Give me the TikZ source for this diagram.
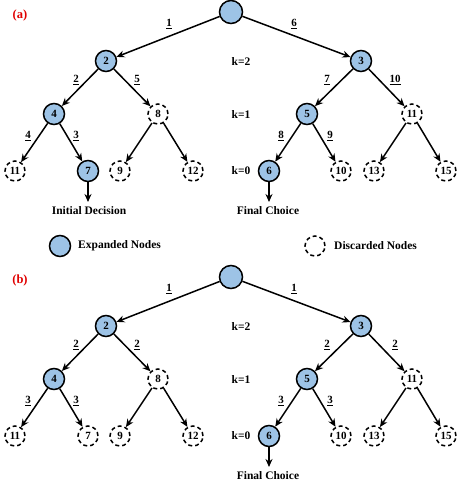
\documentclass[tikz,border=0pt]{standalone}
\usepackage{fontspec}
\setmainfont{Liberation Serif}
\usetikzlibrary{arrows.meta}
\definecolor{nodeblue}{HTML}{9DC3E6}
\definecolor{labred}{HTML}{E00000}
\tikzset{
  exp/.style={circle,draw=black,line width=1.5pt,fill=nodeblue,minimum size=21pt,inner sep=0pt,font=\bfseries\fontsize{11}{11}\selectfont},
  disc/.style={circle,draw=black,line width=1.5pt,dash pattern=on 4pt off 3pt,fill=white,minimum size=20pt,inner sep=0pt,font=\bfseries\fontsize{11}{11}\selectfont},
  rootnode/.style={exp,minimum size=23pt},
  edge/.style={line width=1.5pt,-{Stealth[length=8pt,width=7pt]}},
  elab/.style={font=\bfseries\fontsize{11}{11}\selectfont,inner sep=0pt},
  txt/.style={font=\bfseries\fontsize{11.5}{11.5}\selectfont,inner sep=0pt},
  plab/.style={font=\bfseries\fontsize{12.5}{12.5}\selectfont,text=labred,inner sep=0pt}
}
\begin{document}
\begin{tikzpicture}[x=1pt,y=-1pt]
\useasboundingbox (0,0) rectangle (458,487);
% ---------------- panel (a) ----------------
\node[plab] (pa) at (20,15) {(a)};
\node[rootnode] (ar) at (231,12) {};
\node[exp] (a2) at (106,61) {2};
\node[exp] (a3) at (361,61) {3};
\node[exp] (a4) at (54,114) {4};
\node[disc] (a8) at (158,114) {8};
\node[exp] (a5) at (307,114) {5};
\node[disc] (a11) at (412,114) {11};
\node[disc] (al11) at (15,171) {11};
\node[exp] (al7) at (88,171) {7};
\node[disc] (al9) at (120,171) {9};
\node[disc] (al12) at (193,171) {12};
\node[exp] (al6) at (269,171) {6};
\node[disc] (al10) at (341,171) {10};
\node[disc] (al13) at (374,171) {13};
\node[disc] (al15) at (446,171) {15};
\node[txt] (ak2) at (241,62) {k=2};
\node[txt] (ak1) at (241,115) {k=1};
\node[txt] (ak0) at (241,171) {k=0};
\draw[edge] (ar) -- (a2);
\draw[edge] (ar) -- (a3);
\draw[edge] (a2) -- (a4);
\draw[edge] (a2) -- (a8);
\draw[edge] (a3) -- (a5);
\draw[edge] (a3) -- (a11);
\draw[edge] (a4) -- (al11);
\draw[edge] (a4) -- (al7);
\draw[edge] (a8) -- (al9);
\draw[edge] (a8) -- (al12);
\draw[edge] (a5) -- (al6);
\draw[edge] (a5) -- (al10);
\draw[edge] (a11) -- (al13);
\draw[edge] (a11) -- (al15);
\node[elab] (ae1) at (169,24) {\underline{1}};
\node[elab] (ae6) at (294,24) {\underline{6}};
\node[elab] (ae2) at (76,80) {\underline{2}};
\node[elab] (ae5) at (137,80) {\underline{5}};
\node[elab] (ae7) at (327,80) {\underline{7}};
\node[elab] (ae10) at (395,80) {\underline{10}};
\node[elab] (ae4) at (28,136) {\underline{4}};
\node[elab] (ae3) at (76,136) {\underline{3}};
\node[elab] (ae8) at (281,136) {\underline{8}};
\node[elab] (ae9) at (330,136) {\underline{9}};
\coordinate (aid) at (88,202);
\coordinate (afc) at (269,202);
\draw[edge] (al7) -- (aid);
\draw[edge] (al6) -- (afc);
\node[txt] (aidt) at (89,211) {Initial Decision};
\node[txt] (afct) at (268,211) {Final Choice};
% legend
\node[exp] (lge) at (60,246) {};
\node[txt,anchor=west] (lget) at (78,246) {Expanded Nodes};
\node[disc] (lgd) at (315,246) {};
\node[txt,anchor=west] (lgdt) at (334,246) {Discarded Nodes};
% ---------------- panel (b) ----------------
\begin{scope}[yshift=-265pt]
\node[plab] (pb) at (20,15) {(b)};
\node[rootnode] (br) at (231,12) {};
\node[exp] (b2) at (106,61) {2};
\node[exp] (b3) at (361,61) {3};
\node[exp] (b4) at (54,114) {4};
\node[disc] (b8) at (158,114) {8};
\node[exp] (b5) at (307,114) {5};
\node[disc] (b11) at (412,114) {11};
\node[disc] (bl11) at (15,171) {11};
\node[disc] (bl7) at (88,171) {7};
\node[disc] (bl9) at (120,171) {9};
\node[disc] (bl12) at (193,171) {12};
\node[exp] (bl6) at (269,171) {6};
\node[disc] (bl10) at (341,171) {10};
\node[disc] (bl13) at (374,171) {13};
\node[disc] (bl15) at (446,171) {15};
\node[txt] (bk2) at (241,62) {k=2};
\node[txt] (bk1) at (241,115) {k=1};
\node[txt] (bk0) at (241,171) {k=0};
\draw[edge] (br) -- (b2);
\draw[edge] (br) -- (b3);
\draw[edge] (b2) -- (b4);
\draw[edge] (b2) -- (b8);
\draw[edge] (b3) -- (b5);
\draw[edge] (b3) -- (b11);
\draw[edge] (b4) -- (bl11);
\draw[edge] (b4) -- (bl7);
\draw[edge] (b8) -- (bl9);
\draw[edge] (b8) -- (bl12);
\draw[edge] (b5) -- (bl6);
\draw[edge] (b5) -- (bl10);
\draw[edge] (b11) -- (bl13);
\draw[edge] (b11) -- (bl15);
\node[elab] (be1) at (169,24) {\underline{1}};
\node[elab] (be6) at (294,24) {\underline{1}};
\node[elab] (be2) at (76,80) {\underline{2}};
\node[elab] (be5) at (137,80) {\underline{2}};
\node[elab] (be7) at (327,80) {\underline{2}};
\node[elab] (be10) at (395,80) {\underline{2}};
\node[elab] (be4) at (28,136) {\underline{3}};
\node[elab] (be3) at (76,136) {\underline{3}};
\node[elab] (be8) at (281,136) {\underline{3}};
\node[elab] (be9) at (330,136) {\underline{3}};
\coordinate (bfc) at (269,202);
\draw[edge] (bl6) -- (bfc);
\node[txt] (bfct) at (268,211) {Final Choice};
\end{scope}
\end{tikzpicture}
\end{document}
